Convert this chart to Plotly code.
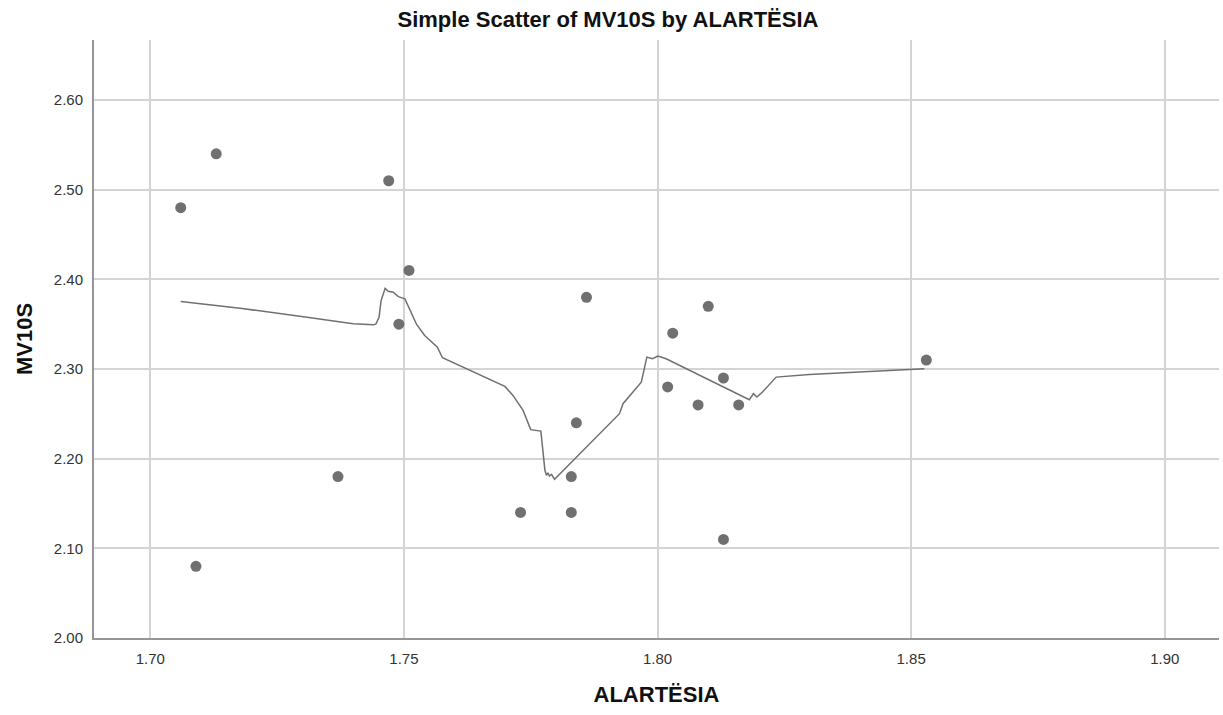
import plotly.graph_objects as go

# Scatter data (ALARTËSIA vs MV10S)
alartesia = [1.706, 1.713, 1.709, 1.737, 1.747, 1.749, 1.751, 1.773, 1.783, 1.783,
             1.784, 1.786, 1.802, 1.803, 1.808, 1.810, 1.813, 1.813, 1.816, 1.853]
mv10s = [2.48, 2.54, 2.08, 2.18, 2.51, 2.35, 2.41, 2.14, 2.18, 2.14,
         2.24, 2.38, 2.28, 2.34, 2.26, 2.37, 2.29, 2.11, 2.26, 2.31]

# Fit line (loess)
fit_x = [1.7060, 1.7177, 1.7309, 1.7400, 1.7440, 1.7445, 1.7451, 1.7455, 1.7463,
         1.7469, 1.7479, 1.7489, 1.7502, 1.7512, 1.7525, 1.7541, 1.7566, 1.7576,
         1.7699, 1.7715, 1.7735, 1.7750, 1.7770, 1.7778, 1.7781, 1.7784, 1.7787,
         1.7791, 1.7797, 1.7925, 1.7932, 1.7968, 1.7974, 1.7979, 1.7990, 1.8001,
         1.8017, 1.8181, 1.8189, 1.8196, 1.8207, 1.8234, 1.8299, 1.8526]
fit_y = [2.3753, 2.3678, 2.3578, 2.3504, 2.3493, 2.3504, 2.3578, 2.3764, 2.3901,
         2.3868, 2.3856, 2.3808, 2.3783, 2.3653, 2.3497, 2.3374, 2.3244, 2.3126,
         2.2806, 2.2706, 2.2539, 2.2324, 2.2308, 2.1871, 2.1815, 2.1841, 2.1807,
         2.1826, 2.1771, 2.2502, 2.2614, 2.2854, 2.3021, 2.3133, 2.3115, 2.3144,
         2.3115, 2.2658, 2.2725, 2.2687, 2.2743, 2.2910, 2.2940, 2.3003]

x_ticks = [1.70, 1.75, 1.80, 1.85, 1.90]
y_ticks = [2.00, 2.10, 2.20, 2.30, 2.40, 2.50, 2.60]

GRAY = "rgb(112,112,112)"
FONT = "Liberation Sans, Arial, sans-serif"

fig = go.Figure()
fig.add_trace(go.Scatter(
    x=fit_x, y=fit_y, mode="lines",
    line=dict(color=GRAY, width=1.5),
    hoverinfo="skip", showlegend=False,
))
fig.add_trace(go.Scatter(
    x=alartesia, y=mv10s, mode="markers",
    marker=dict(color=GRAY, size=11, line=dict(width=0)),
    showlegend=False,
))

fig.update_layout(
    width=1223, height=715,
    margin=dict(l=94, r=4, t=40, b=77),
    paper_bgcolor="white", plot_bgcolor="white",
    font=dict(family=FONT, color="#222222"),
    title=dict(text="<b>Simple Scatter of MV10S by ALARTËSIA</b>",
               x=608 / 1223, xref="container", xanchor="center",
               y=1 - 19 / 715, yref="container", yanchor="middle",
               font=dict(size=22, color="#111111", family=FONT)),
    xaxis=dict(
        range=[1.6889, 1.9107],
        tickvals=x_ticks, ticktext=[f"{v:.2f}" for v in x_ticks],
        tickfont=dict(size=15, color="#333333"),
        ticklabelstandoff=6,
        showgrid=True, gridcolor="rgb(212,212,212)", gridwidth=2,
        showline=True, linecolor="rgb(150,150,150)", linewidth=2,
        zeroline=False, ticks="",
        title=dict(text="<b>ALARTËSIA</b>", font=dict(size=22, color="#111111"), standoff=21),
    ),
    yaxis=dict(
        range=[2.0, 2.667],
        tickvals=y_ticks, ticktext=[f"{v:.2f}" for v in y_ticks],
        tickfont=dict(size=15, color="#333333"),
        ticklabelstandoff=6,
        showgrid=True, gridcolor="rgb(212,212,212)", gridwidth=2,
        showline=True, linecolor="rgb(150,150,150)", linewidth=2,
        zeroline=False, ticks="",
        title=dict(text="<b>MV10S</b>", font=dict(size=22, color="#111111"), standoff=15),
    ),
)

fig.write_html("out.html")
